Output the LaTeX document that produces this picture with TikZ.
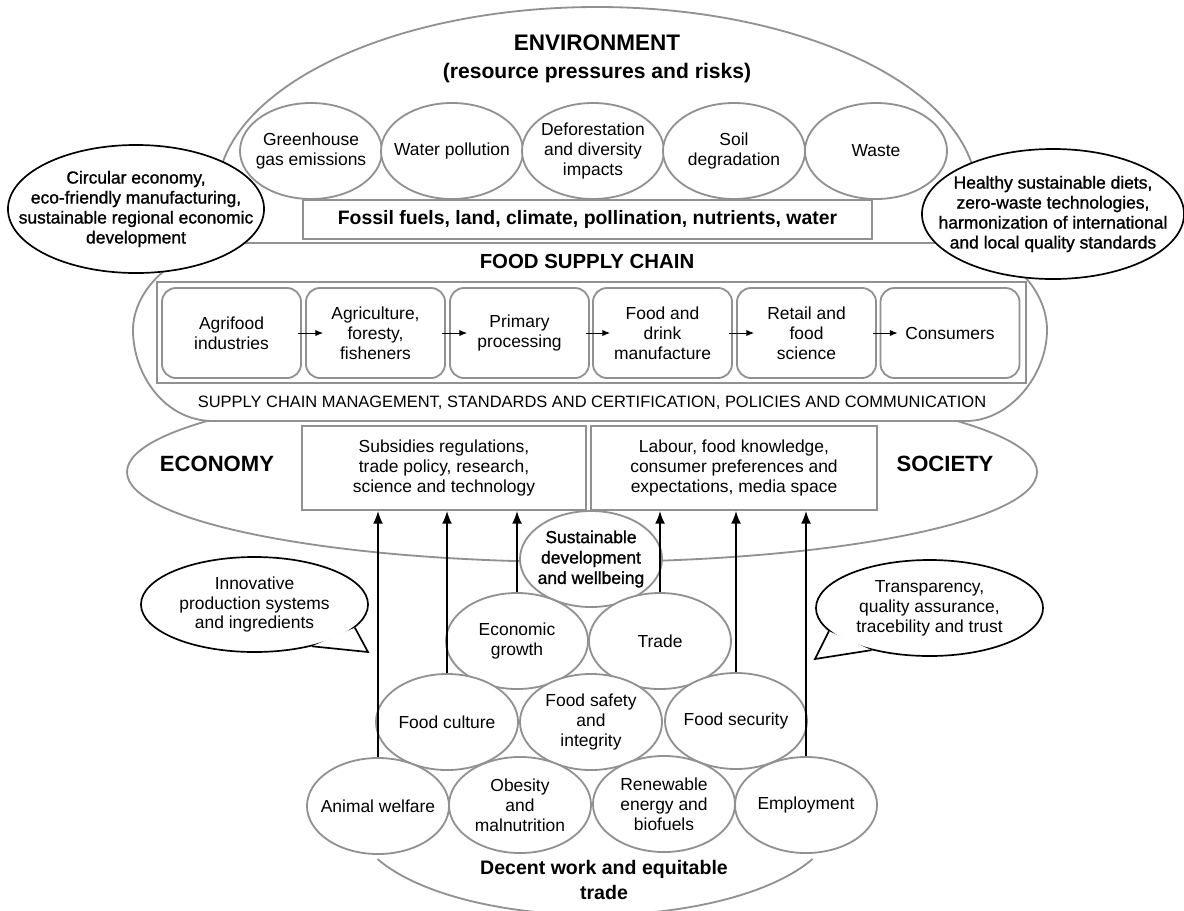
\documentclass[tikz,border=0pt]{standalone}
\usepackage{fontspec}
\setmainfont{Liberation Sans}
\newfontfamily\semibf[FakeBold=1.2]{Liberation Sans}
\usepackage{tikz}
\usetikzlibrary{shapes.geometric,arrows.meta}
\definecolor{linegray}{RGB}{145,145,145}

\begin{document}
\begin{tikzpicture}[x=0.025cm, y=-0.025cm,
	every node/.style={align=center, font=\fontsize{12.4}{14.2}\selectfont},
	oval/.style={ellipse, draw=linegray, line width=1.3pt, fill=white, inner xsep=-1cm, inner ysep=0pt, minimum width=3.55cm, minimum height=2.4cm},
	callout/.style={ellipse, draw=black, line width=1.2pt, fill=white, inner xsep=-1cm, inner ysep=0pt},
	stepbox/.style={rectangle, rounded corners=0.35cm, draw=linegray, line width=1.3pt, fill=white, minimum width=3.475cm, minimum height=2.25cm, inner sep=0pt},
	graybox/.style={rectangle, draw=linegray, line width=1.3pt, fill=white, inner sep=0pt},
	grayline/.style={draw=linegray, line width=1.3pt},
	uparrow/.style={-{Latex[length=9pt,width=7pt]}, line width=1.2pt},
	smallarrow/.style={-{Latex[length=5.5pt,width=4.5pt]}, line width=0.7pt}]
				\useasboundingbox (0,0) rectangle (1184,910);
				% big background shapes
				\draw[grayline] (582,472) ellipse [x radius=455, y radius=90];
				\draw[grayline] (597,195) ellipse [x radius=380, y radius=188];
				\draw[grayline] (377.5,859) arc [start angle=155, end angle=25, x radius=240, y radius=97];
				\draw[grayline, fill=white] (250,243) -- (937,243) .. controls (1010,243) and (1047,290) .. (1047,330)
					.. controls (1047,375) and (1010,421) .. (966,421) -- (213,421)
					.. controls (165,421) and (133,375) .. (133,330) .. controls (133,290) and (175,243) .. (250,243) -- cycle;
				% environment
				\node[font=\bfseries\fontsize{16}{19}\selectfont] (envtitle) at (597,43) {ENVIRONMENT};
				\node[font=\bfseries\fontsize{15}{18}\selectfont] (envsub) at (597,73) {(resource pressures and risks)};
				\node[oval] (ghg) at (311,151) {Greenhouse\\gas emissions};
				\node[oval] (water) at (452,151) {Water pollution};
				\node[oval] (defor) at (593,151) {Deforestation\\and diversity\\impacts};
				\node[oval] (soil) at (734,151) {Soil\\degradation};
				\node[oval] (waste) at (876,151) {Waste};
				\node[graybox, minimum width=14.225cm, minimum height=0.975cm, font=\bfseries\fontsize{13.8}{16}\selectfont] (fossil) at (587.5,219.5) {Fossil fuels, land, climate, pollination, nutrients, water};
				% food supply chain
				\node[font=\bfseries\fontsize{14.5}{17}\selectfont] (fsctitle) at (587,261) {FOOD SUPPLY CHAIN};
				\draw[grayline] (157,282) rectangle (1026,383);
				\node[stepbox] (agri) at (231.5,333) {Agrifood\\industries};
				\node[stepbox] (farm) at (375.5,333) {Agriculture,\\foresty,\\fisheners};
				\node[stepbox] (prim) at (519.5,333) {Primary\\processing};
				\node[stepbox] (manu) at (662.5,333) {Food and\\drink\\manufacture};
				\node[stepbox] (retail) at (806.5,333) {Retail and\\food\\science};
				\node[stepbox] (cons) at (950,333) {Consumers};
				\foreach \a/\b in {agri/farm, farm/prim, prim/manu, manu/retail, retail/cons}
					\draw[smallarrow] ([xshift=-0.1cm]\a.east) -- ([xshift=0.45cm]\b.west);
				\node[font=\fontsize{11.7}{14}\selectfont] (scm) at (592,403) {SUPPLY CHAIN MANAGEMENT, STANDARDS AND CERTIFICATION, POLICIES AND COMMUNICATION};
				% economy and society
				\node[font=\bfseries\fontsize{15.7}{18}\selectfont] (econ) at (217,464) {ECONOMY};
				\node[font=\bfseries\fontsize{15.7}{18}\selectfont] (soc) at (945,464) {SOCIETY};
				\node[graybox, minimum width=7.1cm, minimum height=2.1cm] (subs) at (444,468) {Subsidies regulations,\\trade policy, research,\\science and technology};
				\node[graybox, minimum width=7.15cm, minimum height=2.1cm] (labour) at (734,468) {Labour, food knowledge,\\consumer preferences and\\expectations, media space};
				% pyramid
				\node[oval, font=\semibf\fontsize{12.4}{14.5}\selectfont] (sdw) at (591,559) {Sustainable\\development\\and wellbeing};
				\node[oval] (growth) at (517,641) {Economic\\growth};
				\node[oval] (trade) at (660,641) {Trade};
				\node[oval] (culture) at (447,722) {Food culture};
				\node[oval] (safety) at (591,722) {Food safety\\and\\integrity};
				\node[oval] (security) at (736,721) {Food security};
				\node[oval] (animal) at (378,806) {Animal welfare};
				\node[oval] (obesity) at (520,805) {Obesity\\and\\malnutrition};
				\node[oval] (energy) at (664,804) {Renewable\\energy and\\biofuels};
				\node[oval] (employ) at (806,805) {Employment};
				\node[font=\bfseries\fontsize{13.9}{17.8}\selectfont] (decent) at (604,880) {Decent work and equitable\\trade};
				\foreach \o/\b in {animal/subs, culture/subs, growth/subs, trade/labour, security/labour, employ/labour}
					\draw[uparrow] (\o.north) -- (\o.north |- \b.south);
				% callouts
				\node[callout, minimum width=6.4cm, minimum height=3.2cm, font=\semibf\fontsize{12.4}{14.2}\selectfont] (circ) at (136,209) {Circular economy,\\eco-friendly manufacturing,\\sustainable regional economic\\development};
				\node[callout, minimum width=6.55cm, minimum height=3.25cm, font=\semibf\fontsize{12.4}{14.2}\selectfont] (diets) at (1053,214) {Healthy sustainable diets,\\zero-waste technologies,\\harmonization of international\\and local quality standards};
				\node[callout, minimum width=5.675cm, minimum height=2.375cm] (innov) at (254.5,604.5) {Innovative\\production systems\\and ingredients};
				\node[callout, minimum width=5.675cm, minimum height=2.4cm] (transp) at (929.5,608) {Transparency,\\quality assurance,\\tracebility and trust};
				\coordinate (innovtip) at (368,652);
				\coordinate (transptip) at (815,659);
				\fill[white] (innov.-13) -- (innovtip) -- (innov.-36) -- cycle;
				\draw[line width=1.2pt] (innov.-13) -- (innovtip) -- (innov.-36);
				\fill[white] (transp.193) -- (transptip) -- (transp.216) -- cycle;
				\draw[line width=1.2pt] (transp.193) -- (transptip) -- (transp.216);
			\end{tikzpicture}
\end{document}
